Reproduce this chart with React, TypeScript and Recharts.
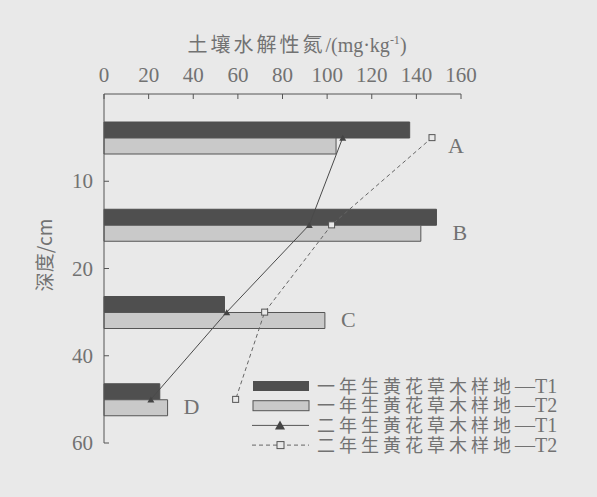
import { ComposedChart, Bar, Line, XAxis, YAxis, Legend, ReferenceDot } from 'recharts'

const layers = ['0-10', '10-20', '20-40', '40-60']
const depthLabels = ['10', '20', '40', '60']
const t1Bar = [137, 149, 54, 25]
const t2Bar = [104, 142, 99, 28.5]
const t1Line = [107, 92, 55, 21]
const t2Line = [147, 102, 72, 59]
const siteLabels = ['A', 'B', 'C', 'D']
// which series each site letter sits next to
const siteAnchor = ['t2Line', 't1Bar', 't2Bar', 't2Bar']
const xTicks = [0, 20, 40, 60, 80, 100, 120, 140, 160]

const BG = '#e9e9e9'
const DARK = '#4f4f4f'
const LIGHT = '#c9c9c9'
const EDGE = '#555'
const TEXT = '#727272'
const SERIF = '"Liberation Serif", "Times New Roman", serif'
const CJK = '"Noto Sans CJK SC", "Liberation Serif", serif'

const data = layers.map((layer, i) => ({
  layer,
  t1Bar: t1Bar[i],
  t2Bar: t2Bar[i],
  t1Line: t1Line[i],
  t2Line: t2Line[i],
}))

const Triangle = (props: any) => {
  const { cx, cy } = props
  if (cx == null || cy == null) return null
  return <path d={`M${cx},${cy - 3}L${cx + 3.5},${cy + 3}L${cx - 3.5},${cy + 3}Z`} fill="#444" />
}

const Square = (props: any) => {
  const { cx, cy } = props
  if (cx == null || cy == null) return null
  return <rect x={cx - 3} y={cy - 3} width={6} height={6} fill={BG} stroke="#555" strokeWidth={1} />
}

const XTick = (props: any) => {
  const { x, y, payload } = props
  return (
    <text x={x} y={y} textAnchor="middle" fontSize={21} fill={TEXT} style={{ fontFamily: SERIF }}>
      {payload.value}
    </text>
  )
}

// depth ticks sit on the layer boundaries, not on the band centres
const DepthTick = (props: any) => {
  const { x, y, payload, index } = props
  const yb = y + (payload.offset || 0)
  return (
    <g>
      <line x1={x} x2={x + 5} y1={yb} y2={yb} stroke={EDGE} />
      <text x={x - 11} y={yb + 7} textAnchor="end" fontSize={21} fill={TEXT} style={{ fontFamily: SERIF }}>
        {depthLabels[index]}
      </text>
    </g>
  )
}

const legendRows = [
  { kind: 'dark', text: '一年生黄花草木样地', tag: '—T1' },
  { kind: 'light', text: '一年生黄花草木样地', tag: '—T2' },
  { kind: 'tri', text: '二年生黄花草木样地', tag: '—T1' },
  { kind: 'sq', text: '二年生黄花草木样地', tag: '—T2' },
]

function renderLegend() {
  return (
    <svg width={330} height={92} style={{ overflow: 'visible' }}>
      {legendRows.map((r, i) => {
        const y = 12 + i * 19.7
        return (
          <g key={r.kind}>
            {r.kind === 'dark' && <rect x={1} y={y - 5} width={56} height={10} fill={DARK} />}
            {r.kind === 'light' && <rect x={1} y={y - 5} width={56} height={10} fill={LIGHT} stroke={EDGE} />}
            {r.kind === 'tri' && (
              <g>
                <line x1={0} x2={57} y1={y} y2={y} stroke="#555" />
                <path d={`M28,${y - 5}L33,${y + 4}L23,${y + 4}Z`} fill="#444" />
              </g>
            )}
            {r.kind === 'sq' && (
              <g>
                <line x1={0} x2={57} y1={y} y2={y} stroke="#666" strokeDasharray="4 3" />
                <rect x={25} y={y - 3.5} width={7} height={7} fill={BG} stroke="#555" />
              </g>
            )}
            <text x={65} y={y + 6.5} fontSize={18} fill={TEXT} style={{ fontFamily: CJK }}>
              <tspan letterSpacing={4}>{r.text}</tspan>
              <tspan style={{ fontFamily: SERIF }} fontSize={20}>{r.tag}</tspan>
            </text>
          </g>
        )
      })}
    </svg>
  )
}

const siteLabel = (name: string) => (props: any) => {
  const { viewBox } = props
  if (!viewBox) return null
  return (
    <text x={viewBox.x + 17} y={viewBox.y + 16} fontSize={22} fill={TEXT} style={{ fontFamily: SERIF }}>
      {name}
    </text>
  )
}

export default function App() {
  return (
    <div style={{ position: 'absolute', left: 0, top: 0, width: 597, height: 497, background: BG }}>
      <ComposedChart
        width={597}
        height={497}
        data={data}
        layout="vertical"
        margin={{ top: 34, right: 136, bottom: 54, left: 0 }}
        barGap={0}
        barCategoryGap={0}
      >
        <XAxis
          type="number"
          orientation="top"
          domain={[0, 160]}
          ticks={xTicks}
          height={60}
          stroke={EDGE}
          tickSize={-5}
          tickMargin={17}
          tick={<XTick />}
          label={() => (
            <text x={297} y={52} textAnchor="middle" fontSize={20} fill={TEXT} style={{ fontFamily: CJK }}>
              <tspan letterSpacing={3}>土壤水解性氮</tspan>
              <tspan style={{ fontFamily: SERIF }}>/(mg·kg</tspan>
              <tspan style={{ fontFamily: SERIF }} fontSize={12} dy={-8}>-1</tspan>
              <tspan style={{ fontFamily: SERIF }} dy={8}>)</tspan>
            </text>
          )}
        />
        <YAxis
          type="category"
          dataKey="layer"
          width={104}
          stroke={EDGE}
          tickLine={false}
          tickSize={0}
          tickMargin={0}
          interval={0}
          tick={<DepthTick />}
          label={() => (
            <text
              x={52}
              y={255}
              transform="rotate(-90 52 255)"
              textAnchor="middle"
              fontSize={19}
              fill={TEXT}
              style={{ fontFamily: CJK }}
            >
              深度/cm
            </text>
          )}
        />
        <Bar dataKey="t1Bar" barSize={16} fill={DARK} stroke={DARK} isAnimationActive={false} />
        <Bar dataKey="t2Bar" barSize={16} fill={LIGHT} stroke={EDGE} isAnimationActive={false} />
        <Line
          dataKey="t1Line"
          stroke="#4a4a4a"
          strokeWidth={1}
          dot={<Triangle />}
          activeDot={false}
          isAnimationActive={false}
        />
        <Line
          dataKey="t2Line"
          stroke="#666"
          strokeWidth={1}
          strokeDasharray="4 3"
          dot={<Square />}
          activeDot={false}
          isAnimationActive={false}
        />
        {layers.map((layer, i) => (
          <ReferenceDot
            key={layer}
            x={(data[i] as any)[siteAnchor[i]]}
            y={layer}
            r={1}
            fill="none"
            stroke="none"
            label={siteLabel(siteLabels[i])}
          />
        ))}
        <Legend
          layout="horizontal"
          verticalAlign="middle"
          align="center"
          content={renderLegend}
          wrapperStyle={{ position: 'absolute', left: 252, top: 374, width: 330, height: 92 }}
        />
      </ComposedChart>
    </div>
  )
}
